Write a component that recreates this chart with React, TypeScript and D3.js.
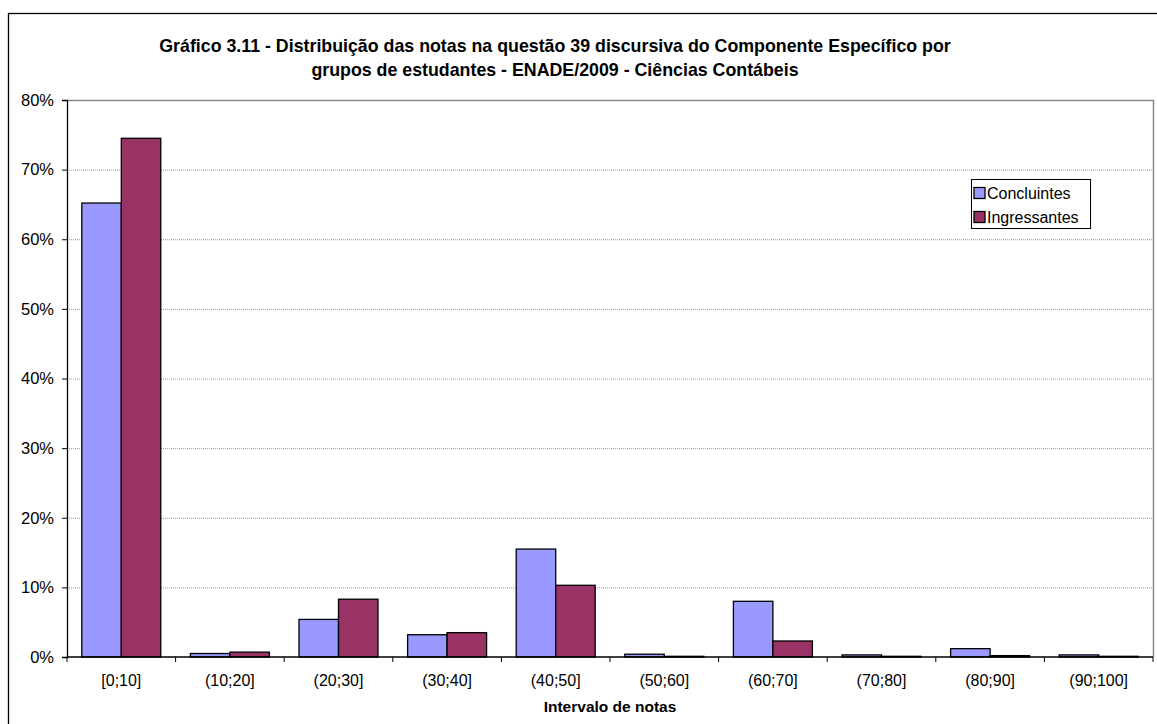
import * as React from "react";
import * as d3 from "d3";

const categories: string[] = [
  "[0;10]", "(10;20]", "(20;30]", "(30;40]", "(40;50]",
  "(50;60]", "(60;70]", "(70;80]", "(80;90]", "(90;100]"
];
const concluintes: number[] = [65.2, 0.5, 5.4, 3.2, 15.5, 0.4, 8.0, 0.3, 1.2, 0.3];
const ingressantes: number[] = [74.5, 0.7, 8.3, 3.5, 10.3, 0.1, 2.3, 0.1, 0.2, 0.1];
const seriesNames: string[] = ["Concluintes", "Ingressantes"];
const seriesColors: string[] = ["#9999ff", "#993366"];
const yTicks: number[] = [0, 10, 20, 30, 40, 50, 60, 70, 80];
const titleLines: string[] = [
  "Gráfico 3.11 - Distribuição das notas na questão 39 discursiva do Componente Específico por",
  "grupos de estudantes - ENADE/2009 - Ciências Contábeis"
];

type Margin = { top: number; bottom: number; left: number; right: number };

export default function App(): JSX.Element {
  const ref = React.useRef<SVGSVGElement>(null);

  React.useEffect(() => {
    const width = 1157;
    const height = 724;
    const plot: Margin = { left: 67, right: 1153, top: 100, bottom: 657 };
    const font = "'Liberation Sans', Arial, sans-serif";

    const svg = d3.select(ref.current);
    svg.selectAll("*").remove();

    // outer chart border
    svg.append("rect")
      .attr("x", 8.5).attr("y", 13.5)
      .attr("width", width + 20).attr("height", height + 20)
      .attr("fill", "#fff").attr("stroke", "#000").attr("stroke-width", 1.3);

    const x = d3.scaleBand<string>().domain(categories).range([plot.left, plot.right]);
    const xInner = d3.scaleBand<string>().domain(seriesNames)
      .range([0, x.bandwidth()]).paddingOuter(0.375);
    const y = d3.scaleLinear().domain([0, 80]).range([plot.bottom, plot.top]);

    // gridlines
    svg.append("g").selectAll("line")
      .data(yTicks.filter((t) => t > 0 && t < 80))
      .join("line")
      .attr("x1", plot.left).attr("x2", plot.right)
      .attr("y1", (d) => y(d) + 0.5).attr("y2", (d) => y(d) + 0.5)
      .attr("stroke", "#999").attr("stroke-width", 1)
      .attr("stroke-dasharray", "1,1");

    // plot border top and right
    svg.append("path")
      .attr("d", `M${plot.left},${y(80) + 0.5}H${plot.right + 0.5}V${plot.bottom}`)
      .attr("fill", "none").attr("stroke", "#888").attr("stroke-width", 1.5);

    // bars
    const data = categories.map((c, i) => ({ c, vals: [concluintes[i], ingressantes[i]] }));
    const groups = svg.append("g").selectAll("g")
      .data(data).join("g")
      .attr("transform", (d) => `translate(${x(d.c)},0)`);
    groups.selectAll("rect")
      .data((d) => d.vals.map((v, j) => ({ v, name: seriesNames[j], color: seriesColors[j] })))
      .join("rect")
      .attr("x", (d) => xInner(d.name) as number)
      .attr("width", xInner.bandwidth())
      .attr("y", (d) => y(d.v))
      .attr("height", (d) => plot.bottom - y(d.v))
      .attr("fill", (d) => d.color)
      .attr("stroke", "#000").attr("stroke-width", 1.3);

    // y axis
    const yAxis = d3.axisLeft(y).tickValues(yTicks).tickSize(5).tickPadding(8)
      .tickFormat((d) => `${d}%`);
    const yg = svg.append("g").attr("transform", `translate(${plot.left},0)`).call(yAxis);
    yg.select(".domain").attr("stroke", "#000").attr("stroke-width", 1.3);
    yg.selectAll(".tick line").attr("stroke", "#000");
    yg.selectAll("text").attr("font-family", font).attr("font-size", 16.5).attr("fill", "#000");

    // x axis
    const tickPos = d3.range(categories.length + 1).map((i) => plot.left + i * x.step());
    svg.append("line")
      .attr("x1", plot.left).attr("x2", plot.right)
      .attr("y1", plot.bottom).attr("y2", plot.bottom)
      .attr("stroke", "#000").attr("stroke-width", 1.3);
    svg.append("g").selectAll("line")
      .data(tickPos).join("line")
      .attr("x1", (d) => d).attr("x2", (d) => d)
      .attr("y1", plot.bottom).attr("y2", plot.bottom + 5)
      .attr("stroke", "#000");
    svg.append("g").selectAll("text")
      .data(categories).join("text")
      .attr("x", (d) => (x(d) as number) + x.bandwidth() / 2)
      .attr("y", plot.bottom + 29)
      .attr("text-anchor", "middle")
      .attr("font-family", font).attr("font-size", 16)
      .text((d) => d);

    svg.append("text")
      .attr("x", (plot.left + plot.right) / 2).attr("y", 712)
      .attr("text-anchor", "middle")
      .attr("font-family", font).attr("font-size", 15.5).attr("font-weight", "bold")
      .text("Intervalo de notas");

    // title
    svg.append("g").selectAll("text")
      .data(titleLines).join("text")
      .attr("x", 555).attr("y", (d, i) => 52 + i * 24)
      .attr("text-anchor", "middle")
      .attr("font-family", font).attr("font-size", 17.8).attr("font-weight", "bold")
      .text((d) => d);

    // legend
    const legend = svg.append("g").attr("transform", "translate(971,179)");
    legend.append("rect")
      .attr("x", 0.5).attr("y", 0.5).attr("width", 119).attr("height", 49)
      .attr("fill", "#fff").attr("stroke", "#000");
    const items = legend.selectAll("g.item")
      .data(seriesNames).join("g")
      .attr("class", "item")
      .attr("transform", (d, i) => `translate(3,${14 + i * 24})`);
    items.append("rect")
      .attr("x", 0).attr("y", -5.5).attr("width", 11).attr("height", 11)
      .attr("fill", (d, i) => seriesColors[i]).attr("stroke", "#000").attr("stroke-width", 1.3);
    items.append("text")
      .attr("x", 13).attr("y", 6)
      .attr("font-family", font).attr("font-size", 16)
      .text((d) => d);
  }, []);

  return (
    <svg ref={ref} width={1157} height={724}
      style={{ position: "absolute", left: 0, top: 0, background: "#fff" }} />
  );
}
